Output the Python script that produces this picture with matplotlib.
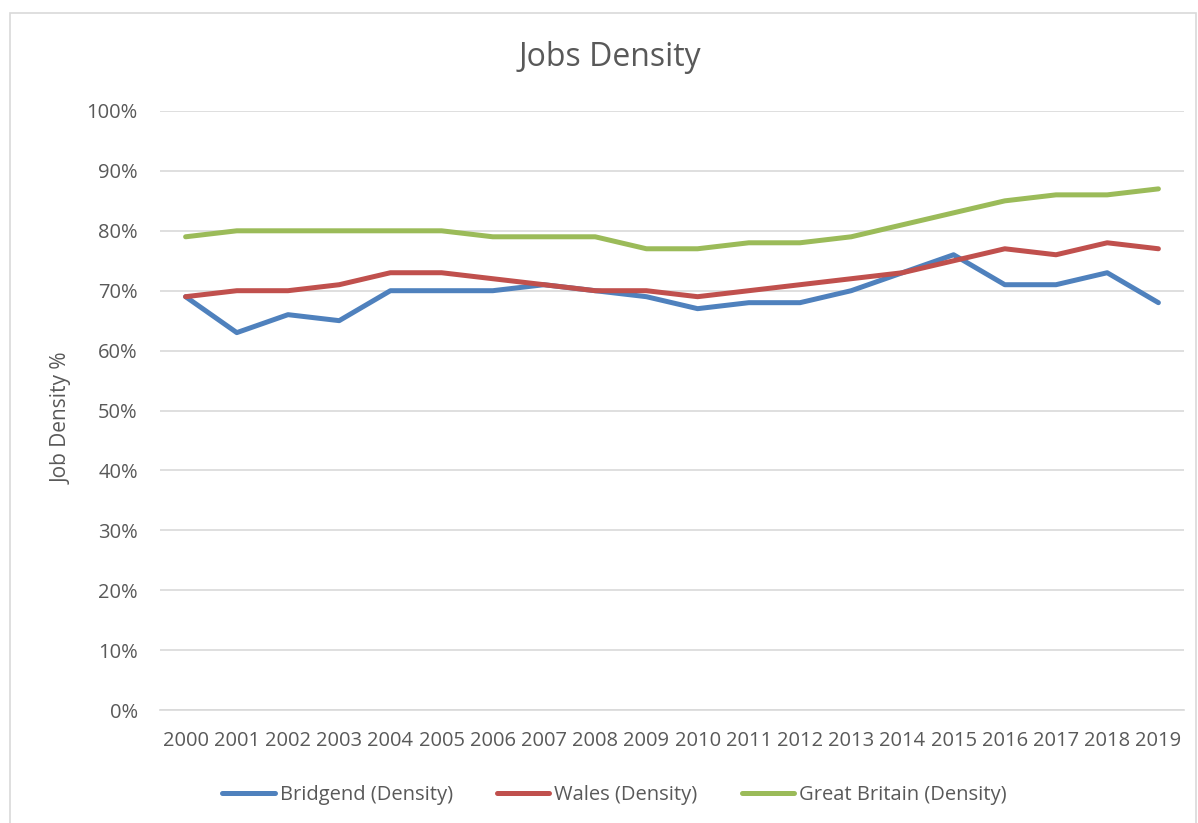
import numpy as np
import matplotlib.pyplot as plt
from matplotlib.patches import Rectangle
from matplotlib.ticker import PercentFormatter

plt.rcParams['font.family'] = ['Open Sans', 'DejaVu Sans']

########## data ##########
years = [str(y) for y in range(2000, 2020)]
bridgend = [69, 63, 66, 65, 70, 70, 70, 71, 70, 69, 67, 68, 68, 70, 73, 76, 71, 71, 73, 68]
wales = [69, 70, 70, 71, 73, 73, 72, 71, 70, 70, 69, 70, 71, 72, 73, 75, 77, 76, 78, 77]
gb = [79, 80, 80, 80, 80, 80, 79, 79, 79, 77, 77, 78, 78, 79, 81, 83, 85, 86, 86, 87]

grey = '#595959'

fig = plt.figure(figsize=(11.98, 8.23), dpi=100)
# chart border
fig.patches.append(Rectangle((10/1198, -0.01), 1186/1198, 1 - 13/823 + 0.01,
                             transform=fig.transFigure, fill=False,
                             edgecolor='#d9d9d9', lw=1.2))

ax = fig.add_axes([160/1198, 113/823, 1024/1198, 599/823])
x = np.arange(len(years))
ax.plot(x, bridgend, color='#4F81BD', lw=3.6, solid_capstyle='round', label='Bridgend (Density)')
ax.plot(x, wales, color='#C0504D', lw=3.6, solid_capstyle='round', label='Wales (Density)')
ax.plot(x, gb, color='#9BBB59', lw=3.6, solid_capstyle='round', label='Great Britain (Density)')

ax.set_xlim(-0.5, len(years) - 0.5)
ax.set_ylim(0, 100)
ax.set_yticks(np.arange(0, 101, 10))
ax.yaxis.set_major_formatter(PercentFormatter(decimals=0))
ax.set_xticks(x)
ax.set_xticklabels(years)
ax.grid(axis='y', color='#d9d9d9', lw=1.2)
ax.set_axisbelow(True)
for s in ['top', 'right', 'left']:
    ax.spines[s].set_visible(False)
ax.spines['bottom'].set_color('#d9d9d9')
ax.spines['bottom'].set_linewidth(1.2)
ax.tick_params(length=0, labelsize=14.5, colors=grey)
ax.tick_params(axis='x', pad=15)
ax.tick_params(axis='y', pad=16)

fig.text(62/1198, 1 - 418/823, 'Job Density %', fontsize=15, color=grey,
         rotation=90, ha='center', va='center')
fig.text(610/1198, 1 - 58/823, 'Jobs Density', fontsize=23, color=grey, ha='center', va='center')

ax.legend(loc='center', bbox_to_anchor=(0.444, -0.142), ncol=3, frameon=False,
          fontsize=14.5, labelcolor=grey, handlelength=2.6, handletextpad=0.25,
          columnspacing=2.2)

plt.savefig('out.png', dpi=100)
